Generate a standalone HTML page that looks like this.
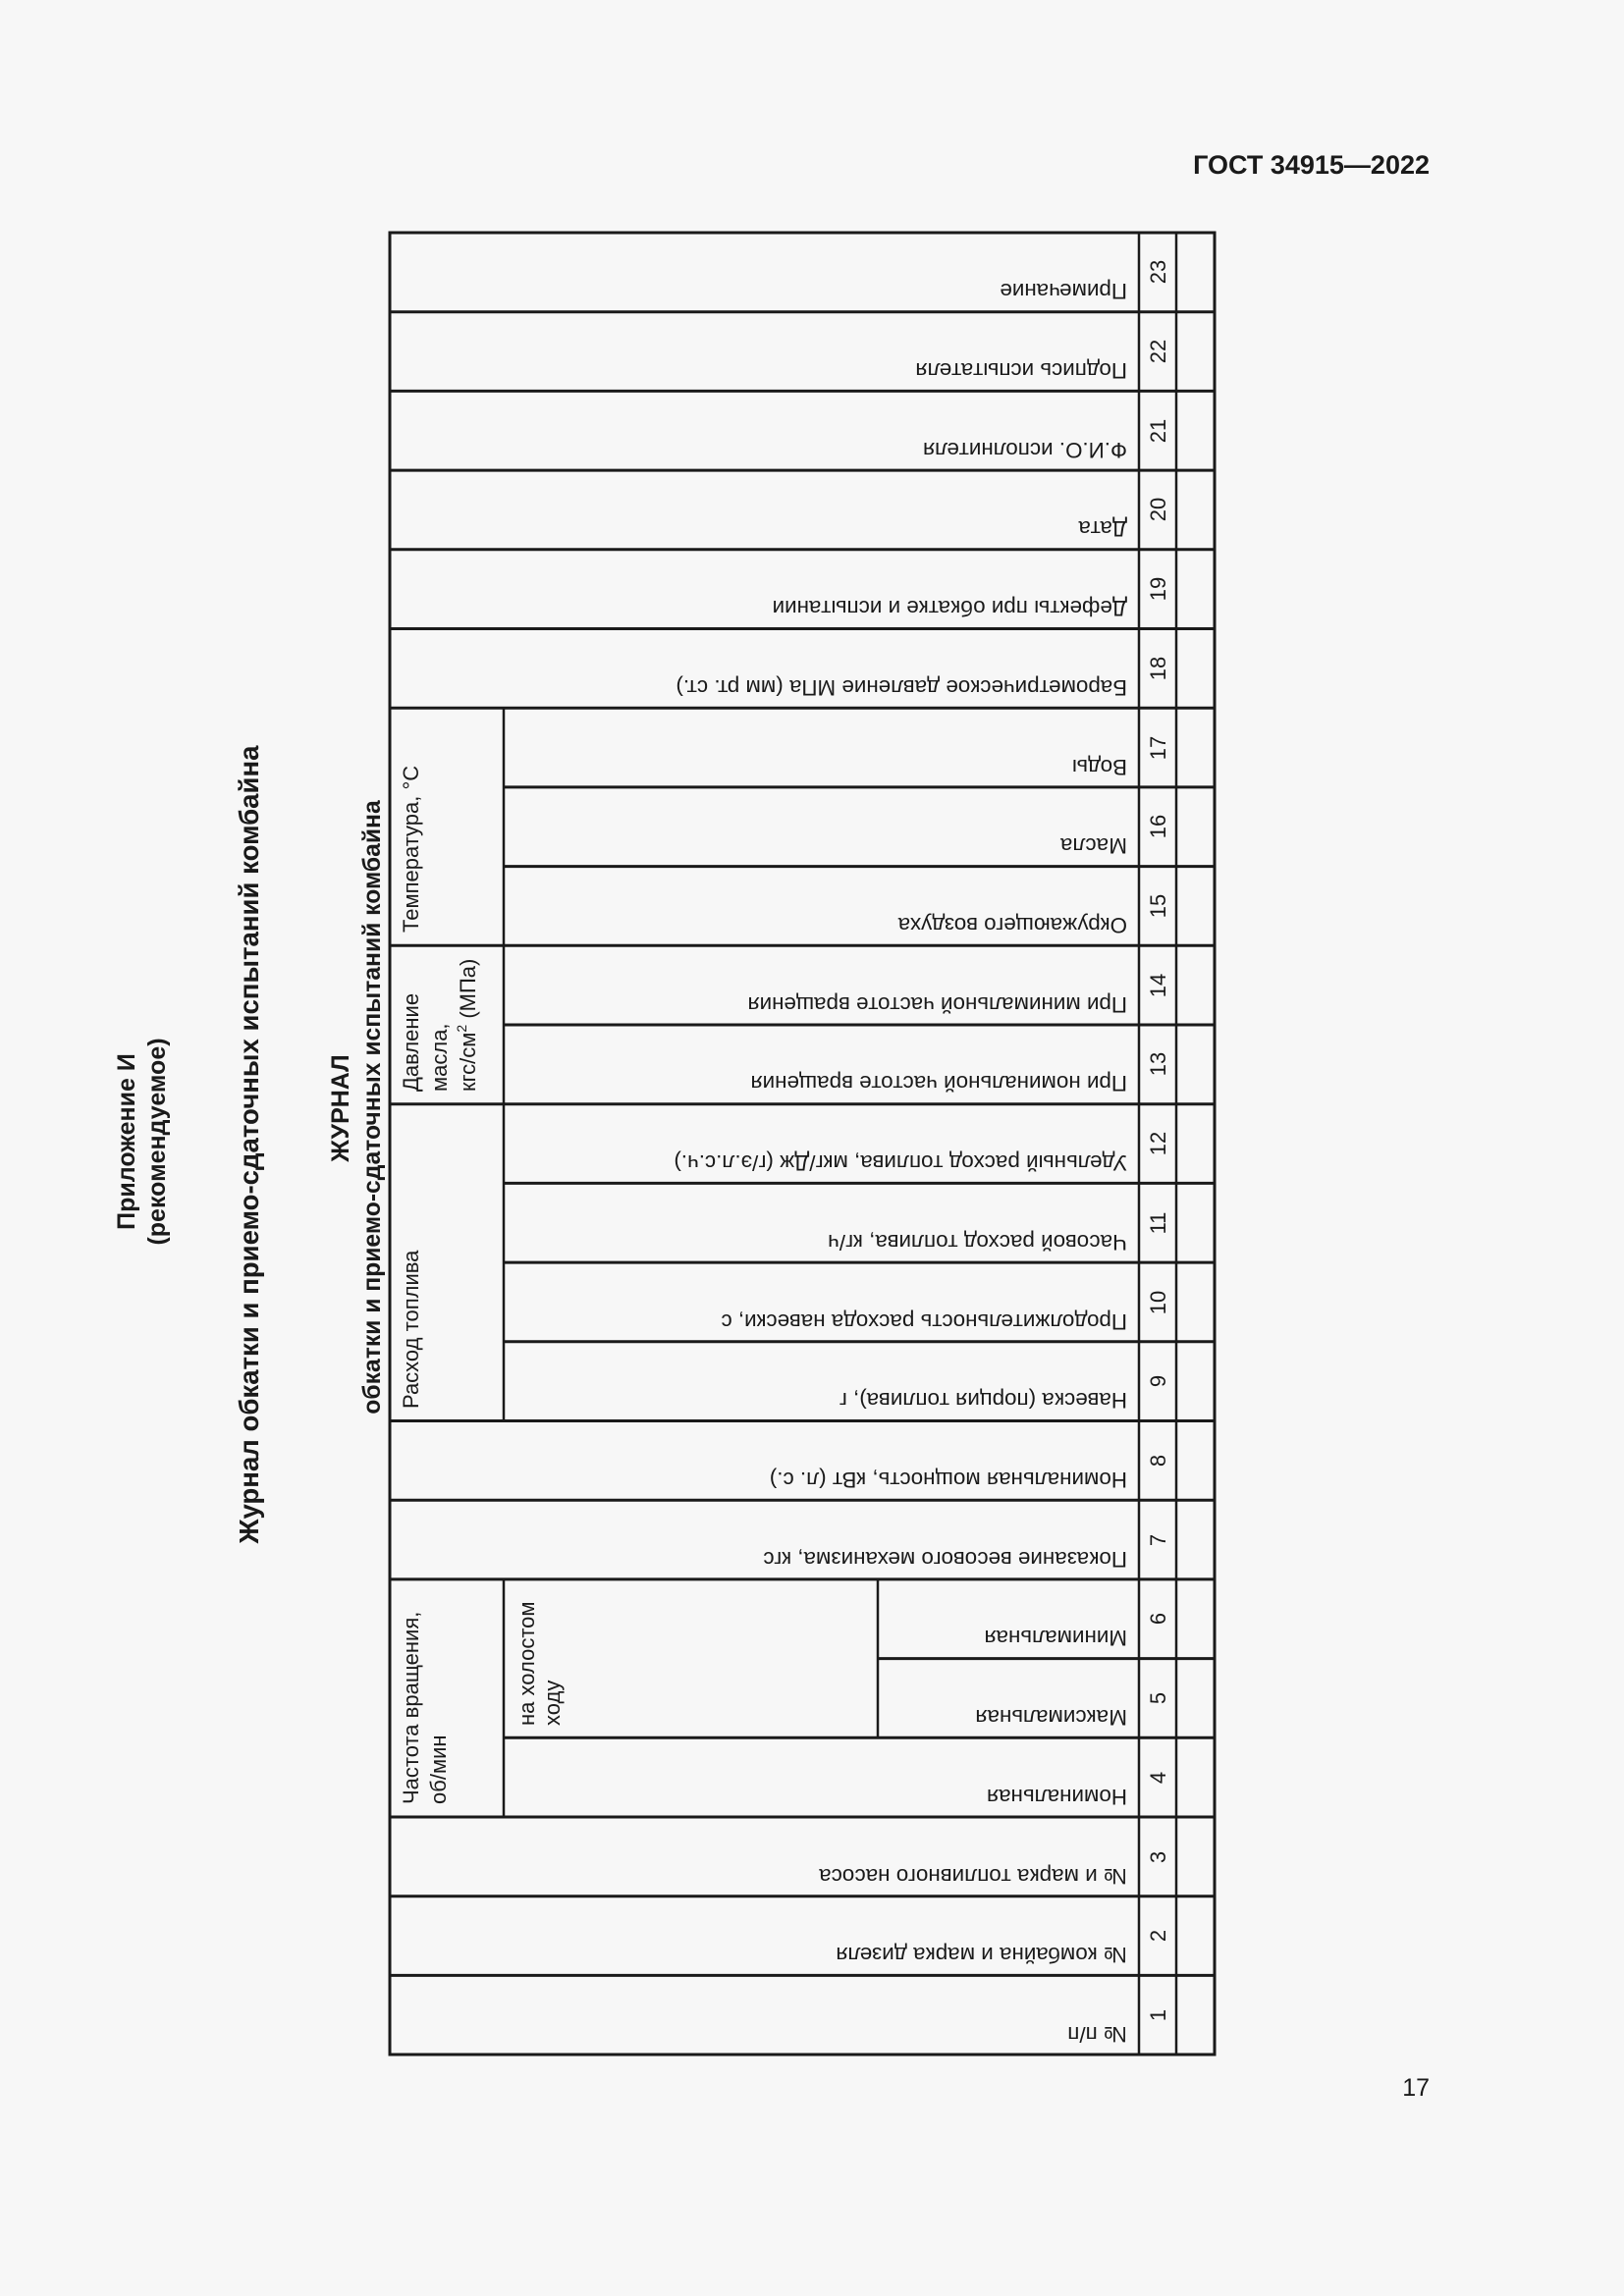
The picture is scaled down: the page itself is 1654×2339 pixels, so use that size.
<!DOCTYPE html>
<html><head><meta charset="utf-8"><style>
html,body{margin:0;padding:0;background:#f7f7f7;}
svg{display:block;}
text{font-family:"Liberation Sans",Arial,sans-serif;fill:#1a1a1a;}
</style></head><body>
<svg width="1654" height="2339" viewBox="0 0 1654 2339" xmlns="http://www.w3.org/2000/svg">
<rect width="1654" height="2339" fill="#f7f7f7"/>
<text x="1456" y="177" font-size="27" font-weight="bold" text-anchor="end">ГОСТ 34915—2022</text>
<text x="1456" y="2135" font-size="25" text-anchor="end">17</text>

<g font-weight="bold" text-anchor="middle">
<text transform="translate(137,1163) rotate(-90)" font-size="25">Приложение И</text>
<text transform="translate(168,1163) rotate(-90)" font-size="25">(рекомендуемое)</text>
<text transform="translate(263,1166) rotate(-90)" font-size="27.6">Журнал обкатки и приемо-сдаточных испытаний комбайна</text>
<text transform="translate(355,1129) rotate(-90)" font-size="25">ЖУРНАЛ</text>
<text transform="translate(387,1128) rotate(-90)" font-size="24.7">обкатки и приемо-сдаточных испытаний комбайна</text>
</g>

<g stroke="#1a1a1a" fill="none">
<rect x="397" y="237" width="840" height="1856" stroke-width="3"/>
<line x1="1160" y1="237" x2="1160" y2="2093" stroke-width="2.5"/>
<line x1="1198" y1="237" x2="1198" y2="2093" stroke-width="2.5"/>
<g stroke-width="3">
<line x1="397" y1="317.7" x2="1237" y2="317.7"/>
<line x1="397" y1="398.4" x2="1237" y2="398.4"/>
<line x1="397" y1="479.1" x2="1237" y2="479.1"/>
<line x1="397" y1="559.8" x2="1237" y2="559.8"/>
<line x1="397" y1="640.5" x2="1237" y2="640.5"/>
<line x1="397" y1="721.2" x2="1237" y2="721.2"/>
<line x1="513" y1="801.9" x2="1237" y2="801.9"/>
<line x1="513" y1="882.6" x2="1237" y2="882.6"/>
<line x1="397" y1="963.3" x2="1237" y2="963.3"/>
<line x1="513" y1="1044" x2="1237" y2="1044"/>
<line x1="397" y1="1124.7" x2="1237" y2="1124.7"/>
<line x1="513" y1="1205.4" x2="1237" y2="1205.4"/>
<line x1="513" y1="1286.1" x2="1237" y2="1286.1"/>
<line x1="513" y1="1366.8" x2="1237" y2="1366.8"/>
<line x1="397" y1="1447.5" x2="1237" y2="1447.5"/>
<line x1="397" y1="1528.2" x2="1237" y2="1528.2"/>
<line x1="397" y1="1608.9" x2="1237" y2="1608.9"/>
<line x1="894" y1="1689.6" x2="1237" y2="1689.6"/>
<line x1="513" y1="1770.3" x2="1237" y2="1770.3"/>
<line x1="397" y1="1851" x2="1237" y2="1851"/>
<line x1="397" y1="1931.7" x2="1237" y2="1931.7"/>
<line x1="397" y1="2012.4" x2="1237" y2="2012.4"/>
</g>
<g stroke-width="2.5">
<line x1="513" y1="721.2" x2="513" y2="1447.5"/>
<line x1="513" y1="1608.9" x2="513" y2="1851"/>
<line x1="894" y1="1608.9" x2="894" y2="1770.3"/>
</g>
</g>

<g font-size="22">
<text transform="translate(426,950) rotate(-90)">Температура, °С</text>
<text transform="translate(426,1112) rotate(-90)">Давление</text>
<text transform="translate(455,1112) rotate(-90)">масла,</text>
<text transform="translate(484,1112) rotate(-90)">кгс/см<tspan font-size="14" dy="-9">2</tspan><tspan dy="9"> (МПа)</tspan></text>
<text transform="translate(426,1435) rotate(-90)">Расход топлива</text>
<text transform="translate(426,1838) rotate(-90)">Частота вращения,</text>
<text transform="translate(454,1838) rotate(-90)">об/мин</text>
<text transform="translate(544,1758) rotate(-90)">на холостом</text>
<text transform="translate(570,1758) rotate(-90)">ходу</text>
</g>

<g font-size="22.4">
<text transform="translate(1148,289) rotate(180)">Примечание</text>
<text transform="translate(1148,370) rotate(180)">Подпись испытателя</text>
<text transform="translate(1148,451) rotate(180)">Ф.И.О. исполнителя</text>
<text transform="translate(1148,531) rotate(180)">Дата</text>
<text transform="translate(1148,612) rotate(180)">Дефекты при обкатке и испытании</text>
<text transform="translate(1148,693) rotate(180)">Барометрическое давление МПа (мм рт. ст.)</text>
<text transform="translate(1148,774) rotate(180)">Воды</text>
<text transform="translate(1148,854) rotate(180)">Масла</text>
<text transform="translate(1148,935) rotate(180)">Окружающего воздуха</text>
<text transform="translate(1148,1016) rotate(180)">При минимальной частоте вращения</text>
<text transform="translate(1148,1096) rotate(180)">При номинальной частоте вращения</text>
<text transform="translate(1148,1177) rotate(180)">Удельный расход топлива, мкг/Дж (г/э.л.с.ч.)</text>
<text transform="translate(1148,1258) rotate(180)">Часовой расход топлива, кг/ч</text>
<text transform="translate(1148,1339) rotate(180)">Продолжительность расхода навески, с</text>
<text transform="translate(1148,1419) rotate(180)">Навеска (порция топлива), г</text>
<text transform="translate(1148,1500) rotate(180)">Номинальная мощность, кВт (л. с.)</text>
<text transform="translate(1148,1581) rotate(180)">Показание весового механизма, кгс</text>
<text transform="translate(1148,1661) rotate(180)">Минимальная</text>
<text transform="translate(1148,1742) rotate(180)">Максимальная</text>
<text transform="translate(1148,1823) rotate(180)">Номинальная</text>
<text transform="translate(1148,1904) rotate(180)">№ и марка топливного насоса</text>
<text transform="translate(1148,1984) rotate(180)">№ комбайна и марка дизеля</text>
<text transform="translate(1148,2065) rotate(180)">№ п/п</text>
</g>

<g font-size="22" text-anchor="middle">
<text transform="translate(1187,277) rotate(-90)">23</text>
<text transform="translate(1187,358) rotate(-90)">22</text>
<text transform="translate(1187,439) rotate(-90)">21</text>
<text transform="translate(1187,519) rotate(-90)">20</text>
<text transform="translate(1187,600) rotate(-90)">19</text>
<text transform="translate(1187,681) rotate(-90)">18</text>
<text transform="translate(1187,762) rotate(-90)">17</text>
<text transform="translate(1187,842) rotate(-90)">16</text>
<text transform="translate(1187,923) rotate(-90)">15</text>
<text transform="translate(1187,1004) rotate(-90)">14</text>
<text transform="translate(1187,1084) rotate(-90)">13</text>
<text transform="translate(1187,1165) rotate(-90)">12</text>
<text transform="translate(1187,1246) rotate(-90)">11</text>
<text transform="translate(1187,1327) rotate(-90)">10</text>
<text transform="translate(1187,1407) rotate(-90)">9</text>
<text transform="translate(1187,1488) rotate(-90)">8</text>
<text transform="translate(1187,1569) rotate(-90)">7</text>
<text transform="translate(1187,1649) rotate(-90)">6</text>
<text transform="translate(1187,1730) rotate(-90)">5</text>
<text transform="translate(1187,1811) rotate(-90)">4</text>
<text transform="translate(1187,1892) rotate(-90)">3</text>
<text transform="translate(1187,1972) rotate(-90)">2</text>
<text transform="translate(1187,2053) rotate(-90)">1</text>
</g>
</svg>
</body></html>
